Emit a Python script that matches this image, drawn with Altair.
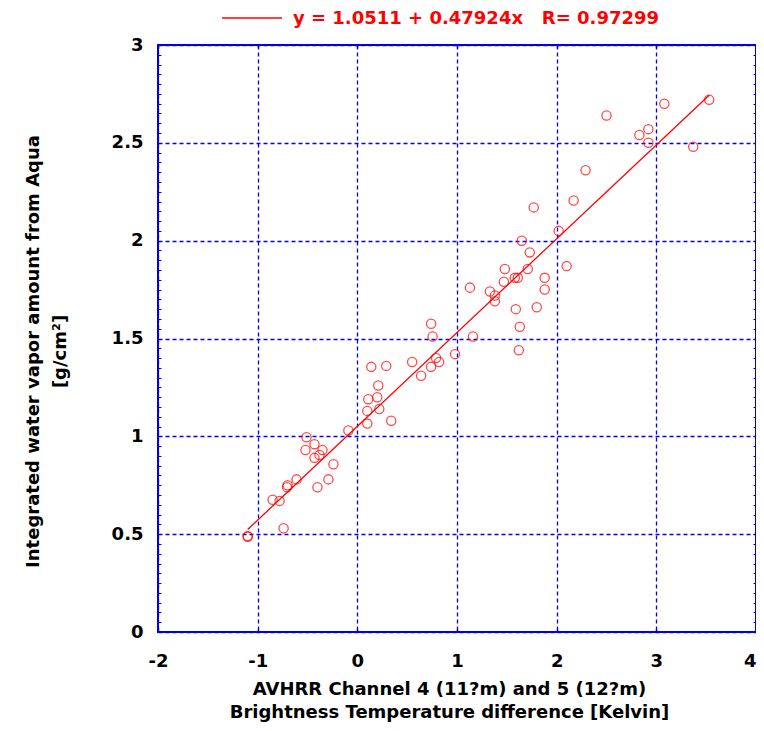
import altair as alt
import pandas as pd

# Brightness temperature difference (K) vs integrated water vapor (g/cm^2)
x_vals = [-1.10, -1.10, -0.85, -0.78, -0.74, -0.705, -0.70, -0.61, -0.52, -0.51,
          -0.43, -0.43, -0.38, -0.35, -0.40, -0.29, -0.24, -0.09, 0.10, 0.10,
          0.11, 0.14, 0.20, 0.21, 0.22, 0.29, 0.34, 0.55, 0.64, 0.74,
          0.755, 0.74, 0.79, 0.82, 0.98, 1.13, 1.16, 1.33, 1.38, 1.38,
          1.48, 1.47, 1.58, 1.61, 1.59, 1.62, 1.63, 1.65, 1.71, 1.73,
          1.77, 1.80, 1.88, 1.88, 2.02, 2.10, 2.17, 2.29, 2.50, 2.83,
          2.92, 2.92, 3.08, 3.37, 3.53]
y_vals = [0.49, 0.487, 0.676, 0.67, 0.53, 0.74, 0.75, 0.78, 0.93, 0.995,
          0.96, 0.89, 0.905, 0.93, 0.74, 0.78, 0.857, 1.03, 1.065, 1.13,
          1.19, 1.355, 1.20, 1.26, 1.14, 1.36, 1.08, 1.38, 1.31, 1.575,
          1.51, 1.355, 1.40, 1.38, 1.42, 1.76, 1.51, 1.74, 1.72, 1.69,
          1.855, 1.79, 1.81, 1.81, 1.65, 1.44, 1.56, 2.00, 1.855, 1.94,
          2.17, 1.66, 1.81, 1.75, 2.05, 1.87, 2.205, 2.36, 2.64, 2.54,
          2.57, 2.50, 2.70, 2.48, 2.72]

intercept = 1.0511
slope = 0.47924
r_value = 0.97299

x_ticks = [-2, -1, 0, 1, 2, 3, 4]
y_ticks_all = [round(k * 0.05, 2) for k in range(0, 61)]

RED = "#ff0000"
BLUE = "#0000ee"
FONT = "DejaVu Sans"

pts = pd.DataFrame({"x": x_vals, "y": y_vals})
xmin, xmax = min(x_vals), max(x_vals)
fit = pd.DataFrame({"x": [xmin, xmax],
                    "y": [intercept + slope * xmin, intercept + slope * xmax]})

x_scale = alt.Scale(domain=[-2, 4], nice=False, zero=False)
y_scale = alt.Scale(domain=[0, 3], nice=False, zero=False)

major_test = "abs(datum.value*2 - round(datum.value*2)) < 0.001"

points = alt.Chart(pts).mark_point(
    shape="circle", filled=False, color=RED, size=85, strokeWidth=1.3
).encode(
    x=alt.X("x:Q", scale=x_scale, axis=alt.Axis(
        orient="bottom", values=x_ticks, labelExpr="datum.value + ''", domain=False,
        offset=-3, tickSize=3, tickColor=BLUE, tickWidth=1.5,
        grid=True, gridColor=BLUE, gridDash=[4, 3], gridWidth=1.3,
        labelFont=FONT, labelFontSize=18, labelFontWeight="bold", labelColor="black",
        labelPadding=20,
        labelAlign={"condition": {"test": "datum.value == 4", "value": "right"},
                    "value": "center"},
        title=["AVHRR Channel 4 (11?m) and 5 (12?m)",
               "Brightness Temperature difference [Kelvin]"],
        titleFont=FONT, titleFontSize=18, titleFontWeight="bold", titleColor="black",
        titleLineHeight=23, titleX=291, titleY=60, titleBaseline="middle",
        titleAlign="center")),
    y=alt.Y("y:Q", scale=y_scale, axis=alt.Axis(
        orient="left", values=y_ticks_all, domain=False,
        offset=-3, tickSize=3, tickColor=BLUE, tickWidth=1,
        grid=True, gridColor=BLUE, gridDash=[4, 3], gridWidth=1.3,
        gridOpacity={"condition": {"test": major_test, "value": 1}, "value": 0},
        labelExpr=major_test + " ? (datum.value + '') : ''",
        labelOverlap=False,
        labelFont=FONT, labelFontSize=18, labelFontWeight="bold", labelColor="black",
        labelPadding=15,
        title=["Integrated water vapor amount from Aqua", "[g/cm\u00b2]"],
        titleFont=FONT, titleFontSize=18, titleFontWeight="bold", titleColor="black",
        titleLineHeight=27, titleX=-128, titleY=306, titleAngle=270,
        titleBaseline="middle", titleAlign="center")),
)

line = alt.Chart(fit).mark_line(color=RED, strokeWidth=1.3).encode(
    x=alt.X("x:Q", scale=x_scale, axis=alt.Axis(
        orient="top", values=x_ticks, domain=False, labels=False, grid=False,
        offset=-3, tickSize=3, tickColor=BLUE, tickWidth=1.5, title=None)),
    y=alt.Y("y:Q", scale=y_scale, axis=alt.Axis(
        orient="right", values=y_ticks_all, domain=False, labels=False, grid=False,
        offset=-3, tickSize=3, tickColor=BLUE, tickWidth=1, title=None)),
)

legend_text = "y = 1.0511 + 0.47924x\u00a0\u00a0\u00a0R= 0.97299"
one = pd.DataFrame({"k": [0]})
legend_line = alt.Chart(one).mark_rule(color=RED, strokeWidth=1.3).encode(
    x=alt.value(64), x2=alt.value(124), y=alt.value(-27)
)
legend_label = alt.Chart(one).mark_text(
    align="left", baseline="middle", font=FONT, fontSize=18, fontWeight="bold",
    color=RED
).encode(x=alt.value(135), y=alt.value(-26), text=alt.value(legend_text))

chart = alt.layer(points, line, legend_line, legend_label).resolve_axis(
    x="independent", y="independent"
).properties(
    width=598, height=587,
    autosize=alt.AutoSizeParams(type="none"),
    padding={"left": 150, "top": 37, "right": 0, "bottom": 91},
    background="white",
).configure_view(stroke=BLUE, strokeWidth=2)

chart.save("out.html", embed_options={"renderer": "svg", "actions": False})
